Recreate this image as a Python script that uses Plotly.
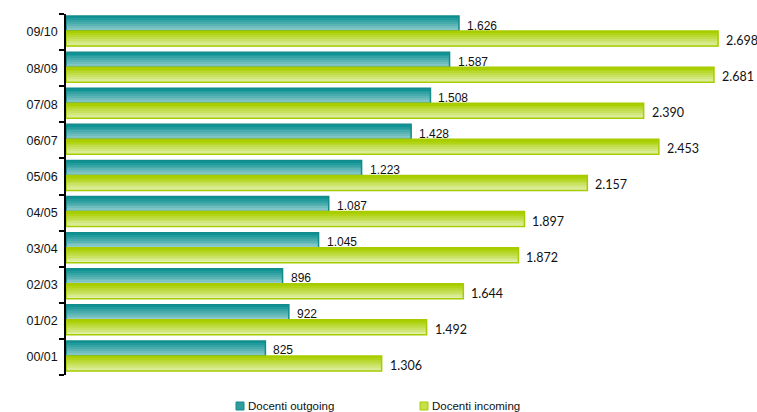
import plotly.graph_objects as go

years = ["00/01", "01/02", "02/03", "03/04", "04/05", "05/06", "06/07", "07/08", "08/09", "09/10"]
outgoing = [825, 922, 896, 1045, 1087, 1223, 1428, 1508, 1587, 1626]
incoming = [1306, 1492, 1644, 1872, 1897, 2157, 2453, 2390, 2681, 2698]


def fmt(v):
    return f"{v:,}".replace(",", ".")


def hex_to_rgb(h):
    h = h.lstrip("#")
    return tuple(int(h[i:i + 2], 16) for i in (0, 2, 4))


def blend(c1, c2, t):
    a, b = hex_to_rgb(c1), hex_to_rgb(c2)
    return "rgb({},{},{})".format(*[round(x + (y - x) * t) for x, y in zip(a, b)])


# (values, bottom offset, thickness, light colour, dark colour, border colour)
series = [
    (outgoing, 0.028, 0.415, "#94cccc", "#0f9394", "#138a8b"),
    (incoming, -0.388, 0.416, "#e2f0ac", "#a9cf00", "#a6cc00"),
]
N_SLICES = 8

fig = go.Figure()
for values, lo, thick, light, dark, border in series:
    h = thick / N_SLICES
    # vertical shading: thin bands from light (bottom) to dark (top)
    for k in range(N_SLICES):
        fig.add_trace(go.Bar(
            y=years, x=values, orientation="h",
            offset=lo + k * h, width=h * 1.02,
            marker=dict(color=blend(light, dark, k / (N_SLICES - 1)), line=dict(width=0)),
            showlegend=False, hoverinfo="skip",
        ))
    # outline of each bar
    fig.add_trace(go.Bar(
        y=years, x=values, orientation="h", offset=lo, width=thick,
        marker=dict(color="rgba(0,0,0,0)", line=dict(color=border, width=1.5)),
        showlegend=False, hoverinfo="skip",
    ))

# value labels next to the bar ends
px_per_cat = 361 / len(years)
for values, lo, thick, fnt, size in [
    (outgoing, 0.028, 0.415, "Liberation Sans", 12),
    (incoming, -0.388, 0.416, "Lato", 12.5),
]:
    for yr, v in zip(years, values):
        fig.add_annotation(
            x=v, y=yr, text=fmt(v), showarrow=False, xanchor="left", yanchor="middle",
            xshift=7, borderpad=0, yshift=(lo + thick / 2) * px_per_cat - 2,
            font=dict(family=fnt, size=size, color="#111"),
        )

# legend drawn below the plot
legend_items = [("Docenti outgoing", 236, "#2f9d9e", "#138a8b"),
                ("Docenti incoming", 420, "#c6e04c", "#a6cc00")]
plot_left, plot_w, plot_bottom, plot_h = 66, 691, 375, 361
for label, px, fill, border in legend_items:
    x0 = (px - plot_left) / plot_w
    x1 = (px + 8 - plot_left) / plot_w
    fig.add_shape(type="rect", xref="paper", yref="paper",
                  x0=x0, x1=x1, y0=(plot_bottom - 410) / plot_h, y1=(plot_bottom - 402) / plot_h,
                  fillcolor=fill, line=dict(color=border, width=1))
    fig.add_annotation(xref="paper", yref="paper", x=(px + 9.5 - plot_left) / plot_w,
                       y=(plot_bottom - 406) / plot_h, text=label, showarrow=False,
                       xanchor="left", yanchor="middle",
                       font=dict(family="Liberation Sans", size=11.5, color="#111"))

fig.update_layout(
    width=757, height=412,
    margin=dict(l=66, r=0, t=14, b=37),
    barmode="overlay",
    plot_bgcolor="white", paper_bgcolor="white",
    font=dict(family="Liberation Sans", size=12, color="#111"),
    showlegend=False,
)
fig.update_xaxes(range=[0, 2859], visible=False, showgrid=False, zeroline=False)
fig.update_yaxes(type="category", categoryorder="array", categoryarray=years,
                 range=[-0.5, len(years) - 0.5],
                 showline=True, linecolor="black", linewidth=1.5,
                 ticks="outside", ticklen=5, tickcolor="black", tickwidth=1.5,
                 tickson="boundaries", showgrid=False, ticklabelstandoff=4,
                 tickfont=dict(size=12.5))

fig.write_html("out.html")
